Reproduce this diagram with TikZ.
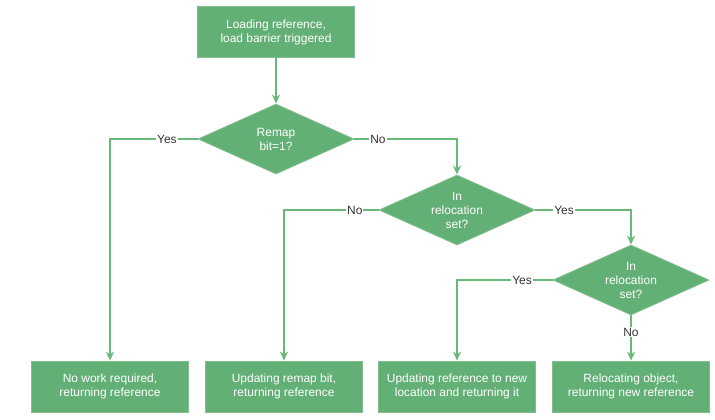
\documentclass[tikz,border=0pt]{standalone}
\usepackage{fontspec}
\setmainfont{Liberation Sans}
\usetikzlibrary{shapes.geometric,arrows.meta}
\definecolor{boxfill}{RGB}{99,176,118}
\definecolor{boxline}{RGB}{130,190,140}
\definecolor{conn}{RGB}{104,184,122}
\definecolor{lbl}{RGB}{51,51,51}
\tikzset{
  procbox/.style={draw=boxline, line width=0.8bp, fill=boxfill, minimum width=157bp, minimum height=51bp, inner sep=0pt, align=center, text=white, font=\fontsize{12}{14}\selectfont},
  decision/.style={diamond, draw=boxline, line width=0.8bp, fill=boxfill, minimum width=156bp, minimum height=70bp, aspect=2.23, inner sep=0pt, align=center, text=white, font=\fontsize{12}{14}\selectfont},
  conn/.style={draw=conn, line width=1.8bp, -{Stealth[length=9bp,width=8bp]}},
  elabel/.style={fill=white, text=lbl, inner sep=1bp, font=\fontsize{12}{13}\selectfont}
}
\begin{document}
\begin{tikzpicture}[x=1bp,y=-1bp]
\useasboundingbox (0,0) rectangle (715,419);
\node[procbox] (start) at (276,32) {Loading reference,\\load barrier triggered};
\node[decision] (d1) at (276,139) {Remap\\bit=1?};
\node[decision] (d2) at (457,210) {In\\relocation\\set?};
\node[decision] (d3) at (631,280) {In\\relocation\\set?};
\node[procbox] (b1) at (110,386.5) {No work required,\\returning reference};
\node[procbox] (b2) at (284,386.5) {Updating remap bit,\\returning reference};
\node[procbox] (b3) at (457,386.5) {Updating reference to new\\location and returning it};
\node[procbox] (b4) at (631,386.5) {Relocating object,\\returning new reference};

\draw[conn] (start) -- (d1);
\draw[conn] (d1.west) -| node[elabel, pos=0.175] {Yes} (b1.north);
\draw[conn] (d1.east) -| node[elabel, pos=0.115] {No} (d2.north);
\draw[conn] (d2.west) -| node[elabel, pos=0.126] {No} (b2.north);
\draw[conn] (d2.east) -| node[elabel, pos=0.15] {Yes} (d3.north);
\draw[conn] (d3.west) -| node[elabel, pos=0.16] {Yes} (b3.north);
\draw[conn] (d3.south) -- node[elabel, pos=0.37] {No} (b4.north);
\end{tikzpicture}
\end{document}
